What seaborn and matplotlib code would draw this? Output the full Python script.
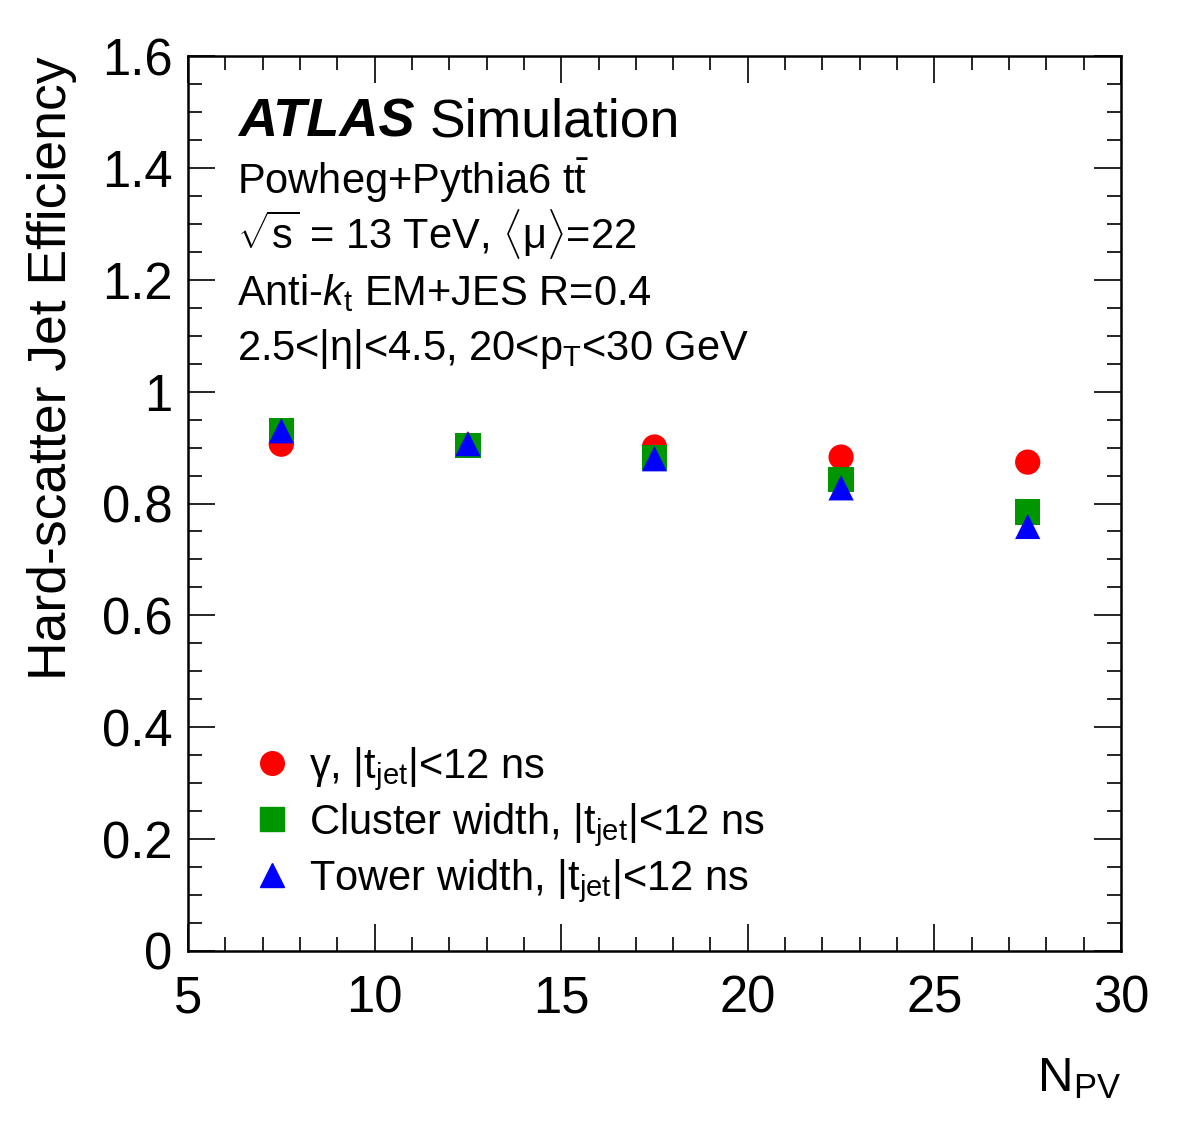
import numpy as np
import pandas as pd
import seaborn as sns
import matplotlib
matplotlib.use("Agg")
import matplotlib.pyplot as plt
from matplotlib.lines import Line2D
from matplotlib.ticker import MultipleLocator

# ---- data ----
npv = [7.5, 12.5, 17.5, 22.5, 27.5]
eff_gamma = [0.906, 0.904, 0.901, 0.883, 0.874]
eff_cluster = [0.930, 0.904, 0.882, 0.843, 0.785]
eff_tower = [0.930, 0.907, 0.880, 0.828, 0.759]
series_names = ["gamma", "cluster", "tower"]
legend_labels = [r"γ, |$\mathrm{t}_\mathrm{jet}$|<12 ns",
                 r"Cluster width, |$\mathrm{t}_\mathrm{jet}$|<12 ns",
                 r"Tower width, |$\mathrm{t}_\mathrm{jet}$|<12 ns"]
x_ticks = [5, 10, 15, 20, 25, 30]
y_ticks = [0, 0.2, 0.4, 0.6, 0.8, 1.0, 1.2, 1.4, 1.6]
y_ticklabels = ["0", "0.2", "0.4", "0.6", "0.8", "1", "1.2", "1.4", "1.6"]

colors = {"gamma": "#ff0000", "cluster": "#009600", "tower": "#0000ff"}
markers = {"gamma": "o", "cluster": "s", "tower": "^"}

df = pd.concat([
    pd.DataFrame({"npv": npv, "eff": eff_gamma, "series": "gamma"}),
    pd.DataFrame({"npv": npv, "eff": eff_cluster, "series": "cluster"}),
    pd.DataFrame({"npv": npv, "eff": eff_tower, "series": "tower"}),
], ignore_index=True)

sns.set_theme(style="ticks")
plt.rcParams["font.family"] = ["Liberation Sans", "DejaVu Sans"]
plt.rcParams["mathtext.fontset"] = "custom"
plt.rcParams["mathtext.rm"] = "Liberation Sans"
plt.rcParams["mathtext.it"] = "Liberation Sans:italic"
plt.rcParams["mathtext.bf"] = "Liberation Sans:bold"
for k in ["text.color", "axes.labelcolor", "xtick.color", "ytick.color",
          "axes.edgecolor"]:
    plt.rcParams[k] = "black"

fig = plt.figure(figsize=(11.82, 11.34), dpi=100)
ax = fig.add_axes([188 / 1182, 1 - 951 / 1134, 933 / 1182, 895 / 1134])

sns.scatterplot(data=df, x="npv", y="eff", hue="series", style="series",
                palette=colors, markers=markers, s=330, linewidth=0,
                legend=False, ax=ax, zorder=3)

ax.set_xlim(5, 30)
ax.set_ylim(0, 1.6)
ax.set_xticks(x_ticks)
ax.set_xticklabels([str(v) for v in x_ticks])
ax.set_yticks(y_ticks)
ax.set_yticklabels(y_ticklabels)
ax.xaxis.set_minor_locator(MultipleLocator(1))
ax.yaxis.set_minor_locator(MultipleLocator(0.05))
ax.tick_params(which="both", direction="in", top=True, right=True,
               width=1.2, color="black")
ax.tick_params(which="major", length=19.5)
ax.tick_params(which="minor", length=10)
ax.tick_params(axis="x", which="major", labelsize=36.5, pad=17)
ax.tick_params(axis="y", which="major", labelsize=36.5, pad=11)
for sp in ax.spines.values():
    sp.set_linewidth(1.8)
    sp.set_color("black")
ax.set_xlabel("")
ax.set_ylabel("")

# axis titles (ROOT style)
ax.text(-0.146, 1.0, "Hard-scatter Jet Efficiency", transform=ax.transAxes,
        rotation=90, ha="center", va="top", fontsize=38.5)
ax.text(1.0, -0.157, r"$\mathrm{N}_\mathrm{PV}$", transform=ax.transAxes,
        ha="right", va="baseline", fontsize=35.5)

# ATLAS label
ax.text(0.0536, 0.910, "ATLAS", transform=ax.transAxes, fontsize=39,
        fontweight="bold", fontstyle="italic", ha="left", va="baseline")
ax.text(0.259, 0.910, "Simulation", transform=ax.transAxes, fontsize=38.5,
        ha="left", va="baseline")
info = [r"Powheg+Pythia6 $\mathrm{t}\bar{\mathrm{t}}$",
        r"$\sqrt{\mathrm{s}}$ = 13 TeV, $\langle$μ$\rangle$=22",
        r"Anti-$k_\mathrm{t}$ EM+JES R=0.4",
        r"2.5<|η|<4.5, 20<$\mathrm{p}_\mathrm{T}$<30 GeV"]
info_y = [0.846, 0.785, 0.722, 0.660]
for t, yy in zip(info, info_y):
    ax.text(0.0525, yy, t, transform=ax.transAxes, fontsize=30,
            ha="left", va="baseline")

handles = [Line2D([], [], linestyle="none", marker=markers[k],
                  color=colors[k], markersize=17) for k in series_names]
leg = ax.legend(handles, legend_labels, loc="upper left",
                bbox_to_anchor=(0.063, 0.230), frameon=False, fontsize=30,
                handletextpad=0.3, labelspacing=0.2, borderaxespad=0,
                borderpad=0, handlelength=1.2)

fig.savefig("out.png", dpi=100, facecolor="white")
